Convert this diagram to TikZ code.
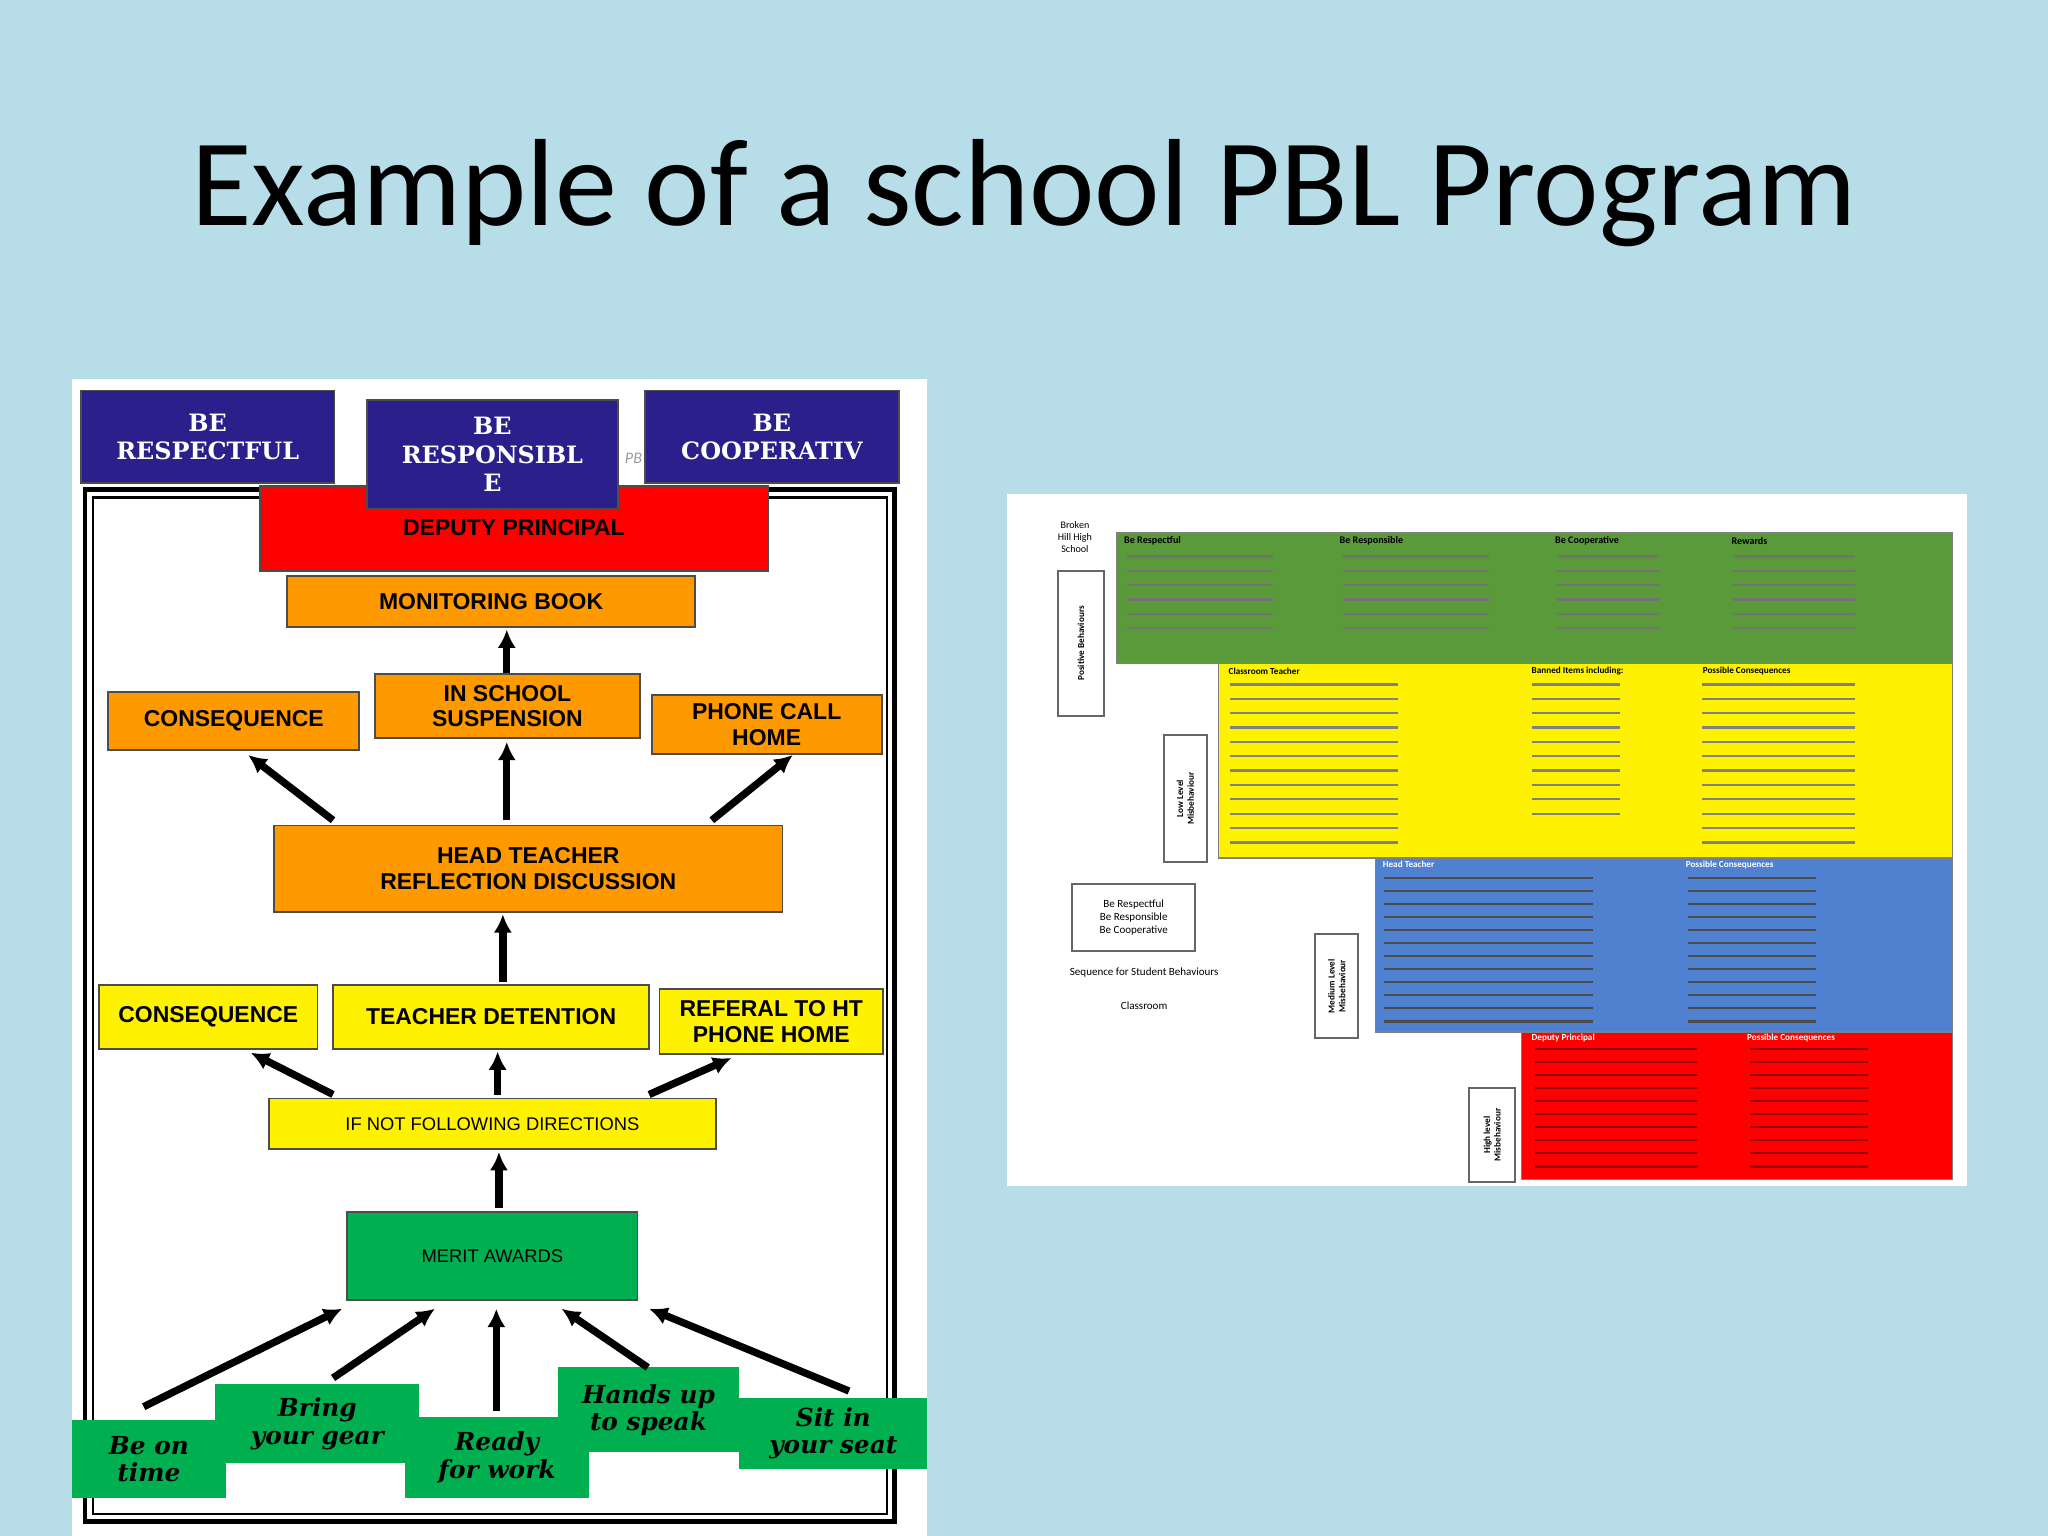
\documentclass[tikz,border=0pt]{standalone}
\usepackage{fontspec}
\setmainfont{Carlito}
\newfontfamily\boxfont{Liberation Sans}
\newfontfamily\fancyfont{DejaVu Serif}
\usetikzlibrary{arrows.meta,positioning}

\definecolor{slidebg}{HTML}{B7DEE8}
\definecolor{pblorange}{HTML}{FF9900}
\definecolor{pblgreen}{HTML}{00B050}
\definecolor{pblnavy}{HTML}{2B1F8C}
\definecolor{rowgreen}{HTML}{5A9A3A}
\definecolor{rowblue}{HTML}{4F81D0}

\begin{document}
\begin{tikzpicture}[x=0.01cm, y=-0.01cm,
                    box/.style={draw=black!70, inner sep=0pt, align=center,
                                font=\boxfont\fontsize{5}{5.6}\selectfont\bfseries},
                    obox/.style={box, fill=pblorange},
                    ybox/.style={box, fill=yellow},
                    gbox/.style={box, fill=pblgreen, draw=none,
                                 font=\fancyfont\fontsize{5.4}{6}\selectfont\bfseries\itshape},
                    bebox/.style={box, fill=pblnavy, text=white,
                                  font=\fancyfont\fontsize{5.2}{6.2}\selectfont\bfseries},
                    up/.style={-{Latex[length=4pt,width=4pt]}, line width=1.6pt},
                    label/.style={draw=black!60, fill=white, inner sep=1pt,
                                  font=\fontsize{2}{2.3}\selectfont\bfseries, rotate=90, align=center}]
    \useasboundingbox (0,0) rectangle (1568,1176);
    \fill[slidebg] (0,0) rectangle (1568,1176);

    % title
    \node (title) at (784,148) {\fontsize{27}{30}\selectfont Example of a school PBL Program};

    % left chart
    \fill[white] (55,290) rectangle (710,1176);
    \draw[line width=1pt] (65,375) rectangle (685,1165);
    \draw[line width=0.5pt] (71,381) rectangle (679,1159);

    \node[box, fill=red, minimum width=3.89cm, minimum height=0.65cm] (deputy) at (393.5,404.5) {};
    \node[box, draw=none] at (393.5,404) {DEPUTY PRINCIPAL};
    \node[bebox, minimum width=1.94cm, minimum height=0.71cm] (respect) at (159,334.5) {BE\\RESPECTFUL};
    \node[bebox, minimum width=1.92cm, minimum height=0.84cm] (respons) at (377,348) {BE\\RESPONSIBL\\E};
    \node[bebox, minimum width=1.94cm, minimum height=0.71cm] (coop) at (591,334.5) {BE\\COOPERATIV};
    \node[text=black!40, font=\fontsize{3.5}{4}\selectfont\itshape] (pb) at (485,351) {PB};

    \node[obox, minimum width=3.12cm, minimum height=0.39cm] (mbook) at (376,460.5) {MONITORING BOOK};
    \node[obox, minimum width=2.03cm, minimum height=0.49cm] (suspend) at (388.5,540.5) {IN SCHOOL\\SUSPENSION};
    \node[obox, minimum width=1.92cm, minimum height=0.44cm] (cons_top) at (179,552) {CONSEQUENCE};
    \node[obox, minimum width=1.76cm, minimum height=0.45cm] (phone) at (587,554.5) {PHONE CALL\\HOME};
    \node[obox, minimum width=3.89cm, minimum height=0.66cm] (head) at (404.5,665) {HEAD TEACHER\\REFLECTION DISCUSSION};

    \node[ybox, minimum width=1.67cm, minimum height=0.49cm] (cons_low) at (159.5,778.5) {CONSEQUENCE};
    \node[ybox, minimum width=2.42cm, minimum height=0.49cm] (detention) at (376,778.5) {TEACHER DETENTION};
    \node[ybox, minimum width=1.71cm, minimum height=0.50cm] (referal) at (590.5,782) {REFERAL TO HT\\PHONE HOME};
    \node[ybox, minimum width=3.42cm, minimum height=0.39cm,
          font=\boxfont\fontsize{4}{4.5}\selectfont] (ifnot) at (377,860.5) {IF NOT FOLLOWING DIRECTIONS};

    \node[box, fill=pblgreen, minimum width=2.22cm, minimum height=0.67cm,
          font=\boxfont\fontsize{4}{4.5}\selectfont] (merit) at (377,961.5) {MERIT AWARDS};

    \node[gbox, minimum width=1.18cm, minimum height=0.60cm] (ontime) at (114,1117) {Be on\\time};
    \node[gbox, minimum width=1.56cm, minimum height=0.60cm] (gear) at (243,1090) {Bring\\your gear};
    \node[gbox, minimum width=1.41cm, minimum height=0.62cm] (ready) at (380.5,1116) {Ready\\for work};
    \node[gbox, minimum width=1.39cm, minimum height=0.65cm] (hands) at (496.5,1079.5) {Hands up\\to speak};
    \node[gbox, minimum width=1.44cm, minimum height=0.55cm] (seat) at (638,1097.5) {Sit in\\your seat};

    % arrow ends
    \coordinate (a1) at (110,1077); \coordinate (h1) at (262,1002);
    \coordinate (a2) at (255,1055); \coordinate (h2) at (333,1002);
    \coordinate (a3) at (380,1080); \coordinate (h3) at (380,1002);
    \coordinate (a4) at (496,1047); \coordinate (h4) at (430,1002);
    \coordinate (a5) at (650,1065); \coordinate (h5) at (497,1002);
    \coordinate (a6) at (382,925);  \coordinate (h6) at (382,882);
    \coordinate (b1) at (255,838);  \coordinate (g1) at (192,806);
    \coordinate (b2) at (381,838);  \coordinate (g2) at (381,805);
    \coordinate (b3) at (497,838);  \coordinate (g3) at (560,810);
    \coordinate (c1) at (385,752);  \coordinate (k1) at (385,700);
    \coordinate (d1) at (255,628);  \coordinate (m1) at (190,578);
    \coordinate (d2) at (388,628);  \coordinate (m2) at (388,568);
    \coordinate (d3) at (545,628);  \coordinate (m3) at (607,578);
    \coordinate (e1) at (388,515);  \coordinate (n1) at (388,482);

    % arrows
    \foreach \t/\h in {a1/h1, a2/h2, a3/h3, a4/h4, a5/h5, a6/h6, b1/g1, b2/g2, b3/g3,
                       c1/k1, d1/m1, d2/m2, d3/m3, e1/n1}
        \draw[up] (\t) -- (\h);

    % right picture
    \fill[white] (771,378) rectangle (1506,908);
    \fill[rowgreen] (855,408) rectangle (1495,508);
    \fill[yellow] (933,508) rectangle (1495,657);
    \fill[rowblue] (1053,657) rectangle (1495,790);
    \fill[red] (1165,790) rectangle (1495,903);
    \draw[black!50, line width=0.3pt] (855,408) rectangle (1495,508) (933,508) rectangle (1495,657)
        (1053,657) rectangle (1495,790) (1165,790) rectangle (1495,903);
    \foreach \x/\t in {860/Be Respectful, 1025/Be Responsible, 1190/Be Cooperative, 1325/Rewards}
        \node[anchor=west, inner sep=0pt, font=\fontsize{2.2}{2.5}\selectfont\bfseries] at (\x,414) {\t};
    \foreach \x/\t in {940/Classroom Teacher, 1172/Banned Items including:, 1303/Possible Consequences}
        \node[anchor=west, inner sep=0pt, font=\fontsize{2}{2.3}\selectfont\bfseries] at (\x,514) {\t};
    \foreach \x/\t in {1058/Head Teacher, 1290/Possible Consequences}
        \node[anchor=west, inner sep=0pt, font=\fontsize{2}{2.3}\selectfont\bfseries, text=white] at (\x,662) {\t};
    \foreach \x/\t in {1172/Deputy Principal, 1337/Possible Consequences}
        \node[anchor=west, inner sep=0pt, font=\fontsize{2}{2.3}\selectfont\bfseries, text=white] at (\x,795) {\t};
    % unreadable text lines
    \foreach \y in {426,437,...,486} {
        \draw[black!55, line width=0.5pt] (863,\y) -- (975,\y) (1028,\y) -- (1140,\y)
            (1192,\y) -- (1270,\y) (1327,\y) -- (1420,\y);
    }
    \foreach \y in {524,535,...,648} {
        \draw[black!50, line width=0.5pt] (942,\y) -- (1070,\y) (1303,\y) -- (1420,\y);
    }
    \foreach \y in {524,535,...,626} \draw[black!50, line width=0.5pt] (1173,\y) -- (1240,\y);
    \foreach \y in {672,682,...,782} {
        \draw[black!70, line width=0.5pt] (1060,\y) -- (1220,\y) (1292,\y) -- (1390,\y);
    }
    \foreach \y in {803,813,...,895} {
        \draw[red!60!black, line width=0.5pt] (1175,\y) -- (1300,\y) (1340,\y) -- (1430,\y);
    }
    \node[align=center, font=\fontsize{2.2}{2.6}\selectfont] (school) at (823,411) {Broken\\Hill High\\School};
    \node[label, minimum width=1.11cm, minimum height=0.35cm] (pos) at (827.5,492.5) {Positive Behaviours};
    \node[label, minimum width=0.97cm, minimum height=0.33cm] (low) at (907.5,611.5) {Low Level\\Misbehaviour};
    \node[label, minimum width=0.80cm, minimum height=0.33cm] (med) at (1023.5,755) {Medium Level\\Misbehaviour};
    \node[label, minimum width=0.72cm, minimum height=0.35cm] (high) at (1142.5,869) {High level\\Misbehaviour};
    \node[draw=black!60, minimum width=0.94cm, minimum height=0.51cm, align=center,
          font=\fontsize{2.4}{2.9}\selectfont] (values) at (868,702.5) {Be Respectful\\Be Responsible\\Be Cooperative};
    \node[font=\fontsize{2.4}{2.8}\selectfont] (seq) at (876,745) {Sequence for Student Behaviours};
    \node[font=\fontsize{2.4}{2.8}\selectfont] (class) at (876,770) {Classroom};
\end{tikzpicture}
\end{document}
